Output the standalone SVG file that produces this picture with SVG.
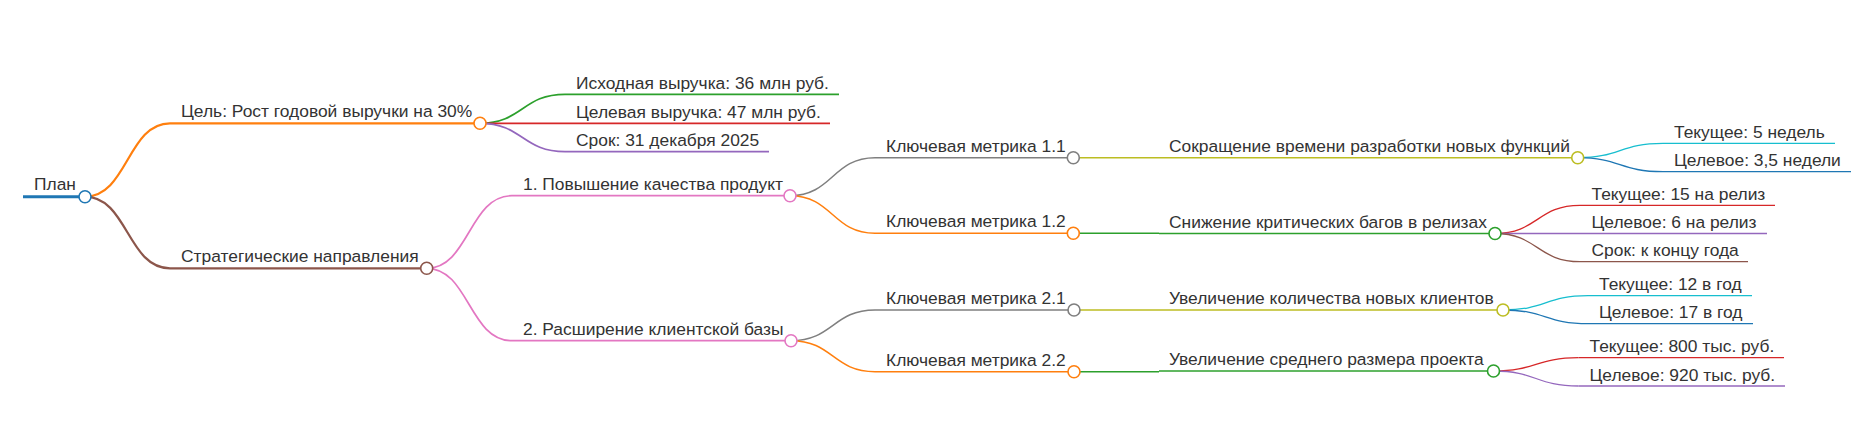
<svg xmlns="http://www.w3.org/2000/svg" width="1866" height="435" viewBox="0 0 1866 435">
<style>
text{font-family:"Liberation Sans",Arial,sans-serif;font-size:17.4px;fill:#333}
path,line{fill:none}
circle{fill:#fff;stroke-width:1.6}
.d0{stroke-width:3}.d1{stroke-width:2.2}.d2{stroke-width:1.7}.d3{stroke-width:1.5}.d4{stroke-width:1.4}.d5{stroke-width:1.3}
.blue{stroke:#1f77b4}.orange{stroke:#ff7f0e}.green{stroke:#2ca02c}.red{stroke:#d62728}.purple{stroke:#9467bd}.brown{stroke:#8c564b}.pink{stroke:#e377c2}.gray{stroke:#7f7f7f}.olive{stroke:#bcbd22}.cyan{stroke:#17becf}
</style>
<rect width="1866" height="435" fill="#fff"/>
<g id="connectors">
<path class="d1 orange" d="M85,196.7C127.5,196.7 127.5,123.3 170,123.3"/>
<path class="d1 brown" d="M85,196.7C127.5,196.7 127.5,268.3 170,268.3"/>
<path class="d2 green" d="M480,123.3C522.5,123.3 522.5,94.3 565,94.3"/>
<path class="d2 red" d="M480,123.3L565,123.3"/>
<path class="d2 purple" d="M480,123.3C522.5,123.3 522.5,151.7 565,151.7"/>
<path class="d2 pink" d="M426.7,268.3C469,268.3 469,195.7 512,195.7"/>
<path class="d2 pink" d="M426.7,268.3C469,268.3 469,340.7 512,340.7"/>
<path class="d3 gray" d="M790,195.7C832.5,195.7 832.5,157.7 875,157.7"/>
<path class="d3 orange" d="M790,195.7C832.5,195.7 832.5,233.3 875,233.3"/>
<path class="d3 gray" d="M791,340.7C833,340.7 833,310 875,310"/>
<path class="d3 orange" d="M791,340.7C833,340.7 833,371.7 875,371.7"/>
<path class="d4 olive" d="M1073.3,157.7L1159,157.7"/>
<path class="d4 green" d="M1073.3,233.3L1159,233.3"/>
<path class="d4 olive" d="M1074,310L1159,310"/>
<path class="d4 green" d="M1074,371.7L1159,371.7"/>
<path class="d5 cyan" d="M1577.7,157.7C1620,157.7 1620,143.3 1663,143.3"/>
<path class="d5 blue" d="M1577.7,157.7C1620,157.7 1620,171.7 1663,171.7"/>
<path class="d5 red" d="M1495,233.5C1537.5,233.5 1537.5,205.3 1580,205.3"/>
<path class="d5 purple" d="M1495,233.5L1580,233.5"/>
<path class="d5 brown" d="M1495,233.5C1537.5,233.5 1537.5,261.7 1580,261.7"/>
<path class="d5 cyan" d="M1503,310C1545.5,310 1545.5,295.7 1588,295.7"/>
<path class="d5 blue" d="M1503,310C1545.5,310 1545.5,323.7 1588,323.7"/>
<path class="d5 red" d="M1493.5,371C1536,371 1536,357.7 1578.5,357.7"/>
<path class="d5 purple" d="M1493.5,371C1536,371 1536,386 1578.5,386"/>
</g>
<g id="n-root"><line class="d0 blue" x1="23" y1="196.7" x2="85" y2="196.7"/><circle class="blue" cx="85" cy="196.7" r="6"/><text x="34" y="190">План</text></g>
<g id="n-goal"><line class="d1 orange" x1="170" y1="123.3" x2="480" y2="123.3"/><circle class="orange" cx="480" cy="123.3" r="6"/><text x="181" y="117.3">Цель: Рост годовой выручки на 30%</text></g>
<g id="n-strat"><line class="d1 brown" x1="170" y1="268.3" x2="426.7" y2="268.3"/><circle class="brown" cx="426.7" cy="268.3" r="6"/><text x="181" y="262.3">Стратегические направления</text></g>
<g id="n-g1"><line class="d2 green" x1="565" y1="94.3" x2="839" y2="94.3"/><text x="576" y="88.8">Исходная выручка: 36 млн руб.</text></g>
<g id="n-g2"><line class="d2 red" x1="565" y1="123.3" x2="830" y2="123.3"/><text x="576" y="117.8">Целевая выручка: 47 млн руб.</text></g>
<g id="n-g3"><line class="d2 purple" x1="565" y1="151.7" x2="769" y2="151.7"/><text x="576" y="146.2">Срок: 31 декабря 2025</text></g>
<g id="n-s1"><line class="d2 pink" x1="512" y1="195.7" x2="790" y2="195.7"/><circle class="pink" cx="790" cy="195.7" r="6"/><text x="523" y="189.7">1. Повышение качества продукт</text></g>
<g id="n-s2"><line class="d2 pink" x1="512" y1="340.7" x2="791" y2="340.7"/><circle class="pink" cx="791" cy="340.7" r="6"/><text x="523" y="334.7">2. Расширение клиентской базы</text></g>
<g id="n-m11"><line class="d3 gray" x1="875" y1="157.7" x2="1073.3" y2="157.7"/><circle class="gray" cx="1073.3" cy="157.7" r="6"/><text x="886" y="151.7">Ключевая метрика 1.1</text></g>
<g id="n-m12"><line class="d3 orange" x1="875" y1="233.3" x2="1073.3" y2="233.3"/><circle class="orange" cx="1073.3" cy="233.3" r="6"/><text x="886" y="227.3">Ключевая метрика 1.2</text></g>
<g id="n-m21"><line class="d3 gray" x1="875" y1="310" x2="1074" y2="310"/><circle class="gray" cx="1074" cy="310" r="6"/><text x="886" y="304">Ключевая метрика 2.1</text></g>
<g id="n-m22"><line class="d3 orange" x1="875" y1="371.7" x2="1074" y2="371.7"/><circle class="orange" cx="1074" cy="371.7" r="6"/><text x="886" y="365.7">Ключевая метрика 2.2</text></g>
<g id="n-a1"><line class="d4 olive" x1="1159" y1="157.7" x2="1577.7" y2="157.7"/><circle class="olive" cx="1577.7" cy="157.7" r="6"/><text x="1169" y="151.7">Сокращение времени разработки новых функций</text></g>
<g id="n-a2"><line class="d4 green" x1="1159" y1="233.5" x2="1495" y2="233.5"/><circle class="green" cx="1495" cy="233.5" r="6"/><text x="1169" y="227.5">Снижение критических багов в релизах</text></g>
<g id="n-b1"><line class="d4 olive" x1="1159" y1="310" x2="1503" y2="310"/><circle class="olive" cx="1503" cy="310" r="6"/><text x="1169" y="304">Увеличение количества новых клиентов</text></g>
<g id="n-b2"><line class="d4 green" x1="1159" y1="371" x2="1493.5" y2="371"/><circle class="green" cx="1493.5" cy="371" r="6"/><text x="1169" y="365">Увеличение среднего размера проекта</text></g>
<g id="n-a1c"><line class="d5 cyan" x1="1663" y1="143.3" x2="1835" y2="143.3"/><text x="1674" y="137.8">Текущее: 5 недель</text></g>
<g id="n-a1t"><line class="d5 blue" x1="1663" y1="171.7" x2="1851" y2="171.7"/><text x="1674" y="166.2">Целевое: 3,5 недели</text></g>
<g id="n-a2c"><line class="d5 red" x1="1580" y1="205.3" x2="1775" y2="205.3"/><text x="1591.5" y="199.8">Текущее: 15 на релиз</text></g>
<g id="n-a2t"><line class="d5 purple" x1="1580" y1="233.5" x2="1767" y2="233.5"/><text x="1591.5" y="228">Целевое: 6 на релиз</text></g>
<g id="n-a2d"><line class="d5 brown" x1="1580" y1="261.7" x2="1748" y2="261.7"/><text x="1591.5" y="256.2">Срок: к концу года</text></g>
<g id="n-b1c"><line class="d5 cyan" x1="1588" y1="295.7" x2="1752" y2="295.7"/><text x="1599" y="290.2">Текущее: 12 в год</text></g>
<g id="n-b1t"><line class="d5 blue" x1="1588" y1="323.7" x2="1753" y2="323.7"/><text x="1599" y="318.2">Целевое: 17 в год</text></g>
<g id="n-b2c"><line class="d5 red" x1="1578.5" y1="357.7" x2="1784" y2="357.7"/><text x="1589.5" y="352.2">Текущее: 800 тыс. руб.</text></g>
<g id="n-b2t"><line class="d5 purple" x1="1578.5" y1="386" x2="1785" y2="386"/><text x="1589.5" y="380.5">Целевое: 920 тыс. руб.</text></g>
</svg>
